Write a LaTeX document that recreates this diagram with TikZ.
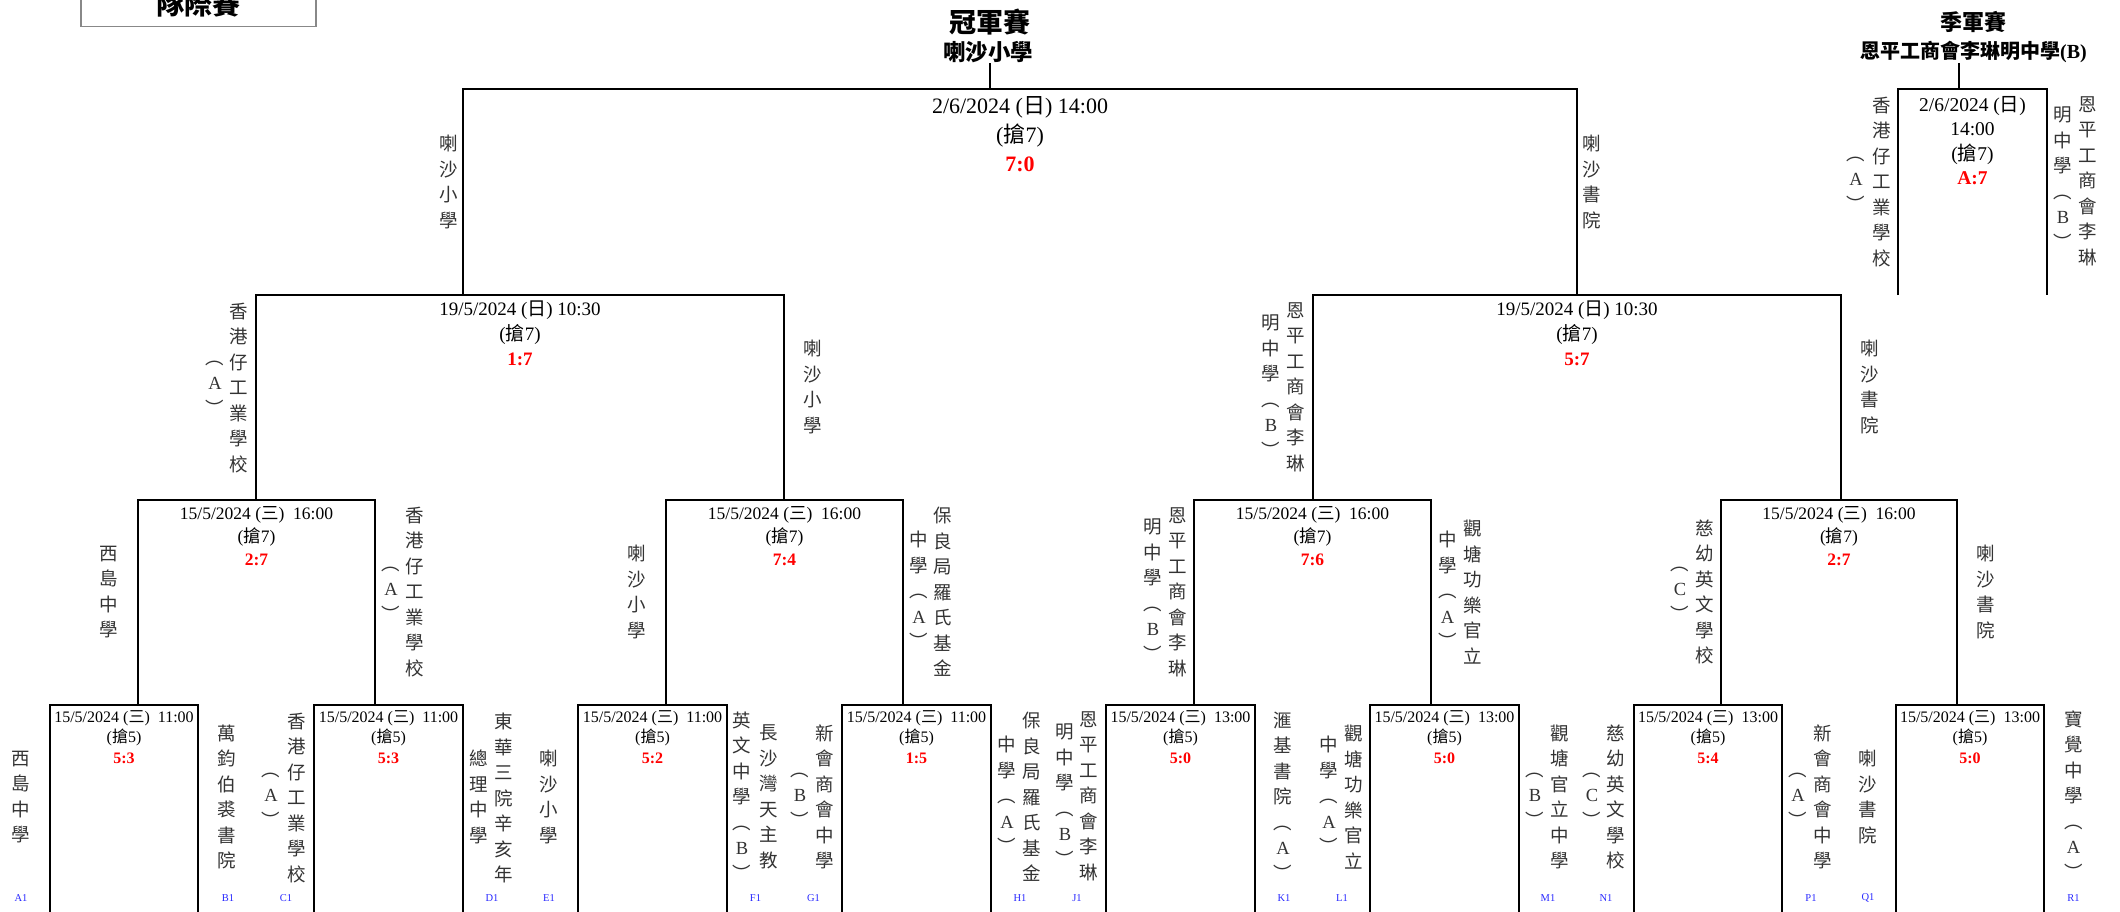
\documentclass[tikz,border=0pt]{standalone}
\usepackage{fontspec}
\setmainfont{Liberation Serif}
\newfontfamily\cjk{Noto Sans CJK TC}
\definecolor{codeblue}{RGB}{40,40,255}
\definecolor{boxgray}{RGB}{136,136,136}
\newcommand\scorefmt[1]{{\bfseries\color{red}#1}}

\begin{document}
\begin{tikzpicture}[x=1pt,y=-1pt,
  bracket/.style={line width=2pt},
  stub/.style={line width=1.2pt},
  vlab/.style={font=\cjk\fontsize{18.5}{25.5}\selectfont,align=center,inner sep=0pt,text=black!80},
  code/.style={font=\fontsize{10.5}{12}\selectfont,text=codeblue,inner sep=0pt},
  info/.style={align=center,inner sep=0pt},
  r16info/.style={info,font=\fontsize{16}{20.5}\selectfont},
  qfinfo/.style={info,font=\fontsize{17.5}{23}\selectfont},
  sfinfo/.style={info,font=\fontsize{19}{25}\selectfont},
  fininfo/.style={info,font=\fontsize{22}{29}\selectfont},
  thdinfo/.style={info,font=\fontsize{19.5}{24.5}\selectfont}]
\useasboundingbox (0,0) rectangle (2120,912);

\node[draw=boxgray,line width=1.3pt,font=\cjk\bfseries\fontsize{28}{30}\selectfont,minimum width=235pt,inner ysep=9pt,anchor=south] (title) at (198.5,27) {隊際賽};

\node[font=\cjk\bfseries\fontsize{27}{30}\selectfont,inner sep=0pt] (champ) at (990,22) {冠軍賽};
\node[font=\cjk\bfseries\fontsize{22.5}{25}\selectfont,inner sep=0pt] (champname) at (988,52.5) {喇沙小學};
\node[font=\cjk\bfseries\fontsize{22}{25}\selectfont,inner sep=0pt] (third) at (1973.5,22) {季軍賽};
\node[font=\bfseries\fontsize{20}{24}\selectfont,inner sep=0pt] (thirdname) at (1973.5,52) {{\cjk 恩平工商會李琳明中學}(B)};

% bracket corners
\coordinate (finL) at (463,89);
\coordinate (finR) at (1577,89);
\coordinate (finS) at (990,89);
\coordinate (thdL) at (1898,89);
\coordinate (thdR) at (2047,89);
\coordinate (thdS) at (1959,89);
\coordinate (sf1-L) at (256,295);
\coordinate (sf1-R) at (784,295);
\coordinate (sf2-L) at (1313,295);
\coordinate (sf2-R) at (1841,295);
\coordinate (qf1-L) at (138,500);
\coordinate (qf1-R) at (375,500);
\coordinate (qf2-L) at (666,500);
\coordinate (qf2-R) at (903,500);
\coordinate (qf3-L) at (1194,500);
\coordinate (qf3-R) at (1431,500);
\coordinate (qf4-L) at (1721,500);
\coordinate (qf4-R) at (1957,500);
\coordinate (r1-L) at (50,705);
\coordinate (r1-R) at (198,705);
\coordinate (r2-L) at (314,705);
\coordinate (r2-R) at (463,705);
\coordinate (r3-L) at (578,705);
\coordinate (r3-R) at (727,705);
\coordinate (r4-L) at (842,705);
\coordinate (r4-R) at (991,705);
\coordinate (r5-L) at (1106,705);
\coordinate (r5-R) at (1255,705);
\coordinate (r6-L) at (1370,705);
\coordinate (r6-R) at (1519,705);
\coordinate (r7-L) at (1634,705);
\coordinate (r7-R) at (1782,705);
\coordinate (r8-L) at (1896,705);
\coordinate (r8-R) at (2044,705);
\coordinate (bot) at (0,916);

\draw[stub] (champname.south -| finS) -- (finS);
\draw[stub] (thirdname.south -| thdS) -- (thdS);
\draw[bracket] (finL |- sf1-L) -- (finL) -- (finR) -- (finR |- sf2-R);
\draw[bracket] (thdL |- sf1-L) -- (thdL) -- (thdR) -- (thdR |- sf1-L);
\draw[bracket] (sf1-L |- qf1-L) -- (sf1-L) -- (sf1-R) -- (sf1-R |- qf2-L);
\draw[bracket] (sf2-L |- qf3-L) -- (sf2-L) -- (sf2-R) -- (sf2-R |- qf4-L);
\draw[bracket] (qf1-L |- r1-L) -- (qf1-L) -- (qf1-R) -- (qf1-R |- r2-L);
\draw[bracket] (qf2-L |- r3-L) -- (qf2-L) -- (qf2-R) -- (qf2-R |- r4-L);
\draw[bracket] (qf3-L |- r5-L) -- (qf3-L) -- (qf3-R) -- (qf3-R |- r6-L);
\draw[bracket] (qf4-L |- r7-L) -- (qf4-L) -- (qf4-R) -- (qf4-R |- r8-L);
\draw[bracket] (r1-L |- bot) -- (r1-L) -- (r1-R) -- (r1-R |- bot);
\draw[bracket] (r2-L |- bot) -- (r2-L) -- (r2-R) -- (r2-R |- bot);
\draw[bracket] (r3-L |- bot) -- (r3-L) -- (r3-R) -- (r3-R |- bot);
\draw[bracket] (r4-L |- bot) -- (r4-L) -- (r4-R) -- (r4-R |- bot);
\draw[bracket] (r5-L |- bot) -- (r5-L) -- (r5-R) -- (r5-R |- bot);
\draw[bracket] (r6-L |- bot) -- (r6-L) -- (r6-R) -- (r6-R |- bot);
\draw[bracket] (r7-L |- bot) -- (r7-L) -- (r7-R) -- (r7-R |- bot);
\draw[bracket] (r8-L |- bot) -- (r8-L) -- (r8-R) -- (r8-R |- bot);

% match details
\node[fininfo] (fin) at (1020,134.5) {2/6/2024 ({\cjk 日}) 14:00\\({\cjk 搶}7)\\\scorefmt{7:0}};
\node[thdinfo] (thd) at (1972.5,140.5) {2/6/2024 ({\cjk 日})\\14:00\\({\cjk 搶}7)\\\scorefmt{A:7}};
\node[sfinfo] (sf1) at (520,333.5) {19/5/2024 ({\cjk 日}) 10:30\\({\cjk 搶}7)\\\scorefmt{1:7}};
\node[sfinfo] (sf2) at (1577,333.5) {19/5/2024 ({\cjk 日}) 10:30\\({\cjk 搶}7)\\\scorefmt{5:7}};
\node[qfinfo] (qf1) at (256.5,536) {15/5/2024 ({\cjk 三})\ \ 16:00\\({\cjk 搶}7)\\\scorefmt{2:7}};
\node[qfinfo] (qf2) at (784.5,536) {15/5/2024 ({\cjk 三})\ \ 16:00\\({\cjk 搶}7)\\\scorefmt{7:4}};
\node[qfinfo] (qf3) at (1312.5,536) {15/5/2024 ({\cjk 三})\ \ 16:00\\({\cjk 搶}7)\\\scorefmt{7:6}};
\node[qfinfo] (qf4) at (1839,536) {15/5/2024 ({\cjk 三})\ \ 16:00\\({\cjk 搶}7)\\\scorefmt{2:7}};
\node[r16info] (r1) at (124,737) {15/5/2024 ({\cjk 三})\ \ 11:00\\({\cjk 搶}5)\\\scorefmt{5:3}};
\node[r16info] (r2) at (388.5,737) {15/5/2024 ({\cjk 三})\ \ 11:00\\({\cjk 搶}5)\\\scorefmt{5:3}};
\node[r16info] (r3) at (652.5,737) {15/5/2024 ({\cjk 三})\ \ 11:00\\({\cjk 搶}5)\\\scorefmt{5:2}};
\node[r16info] (r4) at (916.5,737) {15/5/2024 ({\cjk 三})\ \ 11:00\\({\cjk 搶}5)\\\scorefmt{1:5}};
\node[r16info] (r5) at (1180.5,737) {15/5/2024 ({\cjk 三})\ \ 13:00\\({\cjk 搶}5)\\\scorefmt{5:0}};
\node[r16info] (r6) at (1444.5,737) {15/5/2024 ({\cjk 三})\ \ 13:00\\({\cjk 搶}5)\\\scorefmt{5:0}};
\node[r16info] (r7) at (1708,737) {15/5/2024 ({\cjk 三})\ \ 13:00\\({\cjk 搶}5)\\\scorefmt{5:4}};
\node[r16info] (r8) at (1970,737) {15/5/2024 ({\cjk 三})\ \ 13:00\\({\cjk 搶}5)\\\scorefmt{5:0}};

% winners in the upper rounds
\node[vlab] (fin-a1) at (449,182) {喇\\沙\\小\\學};
\node[vlab] (fin-b1) at (1592,182) {喇\\沙\\書\\院};
\node[vlab] (thd-a1) at (1882,182) {香\\港\\仔\\工\\業\\學\\校};
\node[vlab] (thd-a2) at (1856,184) {︵\\\textrm{A}\\︶};
\node[vlab] (thd-b1) at (2088,181) {恩\\平\\工\\商\\會\\李\\琳};
\node[vlab] (thd-b2) at (2063,178) {明\\中\\學\\︵\\\textrm{B}\\︶};
\node[vlab] (sf1-a1) at (239,388) {香\\港\\仔\\工\\業\\學\\校};
\node[vlab] (sf1-a2) at (215,388) {︵\\\textrm{A}\\︶};
\node[vlab] (sf1-b1) at (813,387) {喇\\沙\\小\\學};
\node[vlab] (sf2-a1) at (1296,387) {恩\\平\\工\\商\\會\\李\\琳};
\node[vlab] (sf2-a2) at (1271,386) {明\\中\\學\\︵\\\textrm{B}\\︶};
\node[vlab] (sf2-b1) at (1870,387) {喇\\沙\\書\\院};
\node[vlab] (qf1-a1) at (109,592) {西\\島\\中\\學};
\node[vlab] (qf1-b1) at (415,592) {香\\港\\仔\\工\\業\\學\\校};
\node[vlab] (qf1-b2) at (391,594) {︵\\\textrm{A}\\︶};
\node[vlab] (qf2-a1) at (637,592) {喇\\沙\\小\\學};
\node[vlab] (qf2-b1) at (943,592) {保\\良\\局\\羅\\氏\\基\\金};
\node[vlab] (qf2-b2) at (919,590) {中\\學\\︵\\\textrm{A}\\︶};
\node[vlab] (qf3-a1) at (1178,592) {恩\\平\\工\\商\\會\\李\\琳};
\node[vlab] (qf3-a2) at (1153,590) {明\\中\\學\\︵\\\textrm{B}\\︶};
\node[vlab] (qf3-b1) at (1473,592) {觀\\塘\\功\\樂\\官\\立};
\node[vlab] (qf3-b2) at (1447.5,590) {中\\學\\︵\\\textrm{A}\\︶};
\node[vlab] (qf4-a1) at (1705,592) {慈\\幼\\英\\文\\學\\校};
\node[vlab] (qf4-a2) at (1680,594) {︵\\\textrm{C}\\︶};
\node[vlab] (qf4-b1) at (1986,592) {喇\\沙\\書\\院};

% first round teams
\node[vlab] (tmA1) at (21,797) {西\\島\\中\\學};
\node[vlab] (tmB1) at (227,797) {萬\\鈞\\伯\\裘\\書\\院};
\node[vlab] (tmC1) at (297,798) {香\\港\\仔\\工\\業\\學\\校};
\node[vlab] (tmC1b) at (271,800) {︵\\\textrm{A}\\︶};
\node[vlab] (tmD1) at (503.5,798) {東\\華\\三\\院\\辛\\亥\\年};
\node[vlab] (tmD1b) at (478.5,797) {總\\理\\中\\學};
\node[vlab] (tmE1) at (549,797) {喇\\沙\\小\\學};
\node[vlab] (tmF1) at (768.5,797) {長\\沙\\灣\\天\\主\\教};
\node[vlab] (tmF1b) at (742,796) {英\\文\\中\\學\\︵\\\textrm{B}\\︶};
\node[vlab] (tmG1) at (824.5,797) {新\\會\\商\\會\\中\\學};
\node[vlab] (tmG1b) at (800,800) {︵\\\textrm{B}\\︶};
\node[vlab] (tmH1) at (1032,797) {保\\良\\局\\羅\\氏\\基\\金};
\node[vlab] (tmH1b) at (1007,795) {中\\學\\︵\\\textrm{A}\\︶};
\node[vlab] (tmJ1) at (1089,796) {恩\\平\\工\\商\\會\\李\\琳};
\node[vlab] (tmJ1b) at (1065,795) {明\\中\\學\\︵\\\textrm{B}\\︶};
\node[vlab] (tmK1) at (1283,796) {滙\\基\\書\\院\\︵\\\textrm{A}\\︶};
\node[vlab] (tmL1) at (1354,797) {觀\\塘\\功\\樂\\官\\立};
\node[vlab] (tmL1b) at (1329,795) {中\\學\\︵\\\textrm{A}\\︶};
\node[vlab] (tmM1) at (1560,797) {觀\\塘\\官\\立\\中\\學};
\node[vlab] (tmM1b) at (1535,800) {︵\\\textrm{B}\\︶};
\node[vlab] (tmN1) at (1616,797) {慈\\幼\\英\\文\\學\\校};
\node[vlab] (tmN1b) at (1592,800) {︵\\\textrm{C}\\︶};
\node[vlab] (tmP1) at (1823,797) {新\\會\\商\\會\\中\\學};
\node[vlab] (tmP1b) at (1798,800) {︵\\\textrm{A}\\︶};
\node[vlab] (tmQ1) at (1868,797) {喇\\沙\\書\\院};
\node[vlab] (tmR1) at (2073.5,795) {寶\\覺\\中\\學\\︵\\\textrm{A}\\︶};

\node[code] (cdA1) at (21,898) {A1};
\node[code] (cdB1) at (228,898) {B1};
\node[code] (cdC1) at (286,898) {C1};
\node[code] (cdD1) at (492,898) {D1};
\node[code] (cdE1) at (549,898) {E1};
\node[code] (cdF1) at (755.5,898) {F1};
\node[code] (cdG1) at (813.5,898) {G1};
\node[code] (cdH1) at (1020,898) {H1};
\node[code] (cdJ1) at (1077,898) {J1};
\node[code] (cdK1) at (1284,898) {K1};
\node[code] (cdL1) at (1342,898) {L1};
\node[code] (cdM1) at (1548,898) {M1};
\node[code] (cdN1) at (1606,898) {N1};
\node[code] (cdP1) at (1811,898) {P1};
\node[code] (cdQ1) at (1868,898) {Q1};
\node[code] (cdR1) at (2073.5,898) {R1};
\end{tikzpicture}
\end{document}
